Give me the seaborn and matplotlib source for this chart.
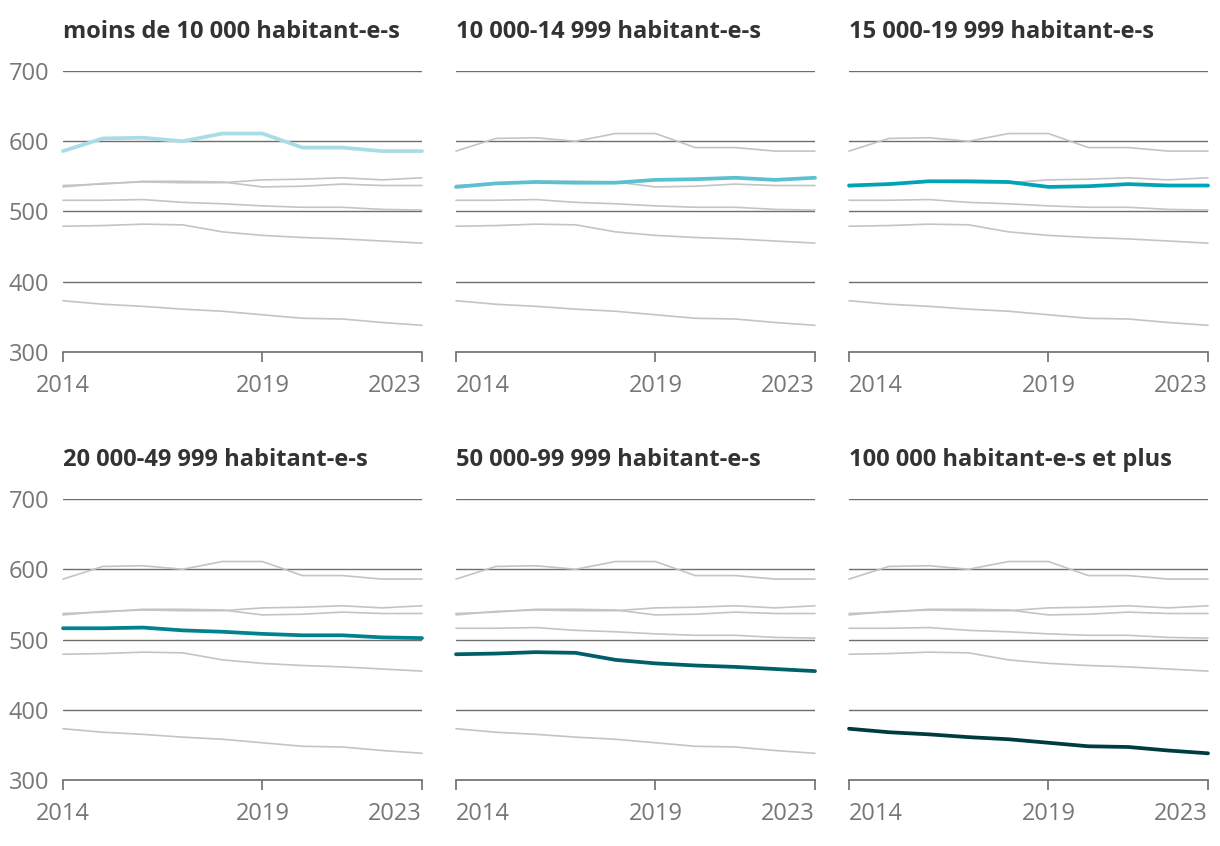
import numpy as np
import pandas as pd
import matplotlib
matplotlib.use("Agg")
import matplotlib.pyplot as plt
import seaborn as sns

# data
years = list(range(2014, 2024))
groups = [
    "moins de 10 000 habitant-e-s",
    "10 000-14 999 habitant-e-s",
    "15 000-19 999 habitant-e-s",
    "20 000-49 999 habitant-e-s",
    "50 000-99 999 habitant-e-s",
    "100 000 habitant-e-s et plus",
]
lt_10k = [586, 604, 605, 600, 611, 611, 591, 591, 586, 586]
k10_15 = [535, 540, 542, 541, 541, 545, 546, 548, 545, 548]
k15_20 = [537, 539, 543, 543, 542, 535, 536, 539, 537, 537]
k20_50 = [516, 516, 517, 513, 511, 508, 506, 506, 503, 502]
k50_100 = [479, 480, 482, 481, 471, 466, 463, 461, 458, 455]
gt_100k = [373, 368, 365, 361, 358, 353, 348, 347, 342, 338]
series = [lt_10k, k10_15, k15_20, k20_50, k50_100, gt_100k]
colors = ["#a8dde7", "#5bc0cf", "#00a3b5", "#00838f", "#005f69", "#003b40"]
xticks = [2014, 2019, 2023]

df = pd.DataFrame({
    "year": years * len(groups),
    "value": sum(series, []),
    "group": np.repeat(groups, len(years)),
})

sns.set_style("white")
plt.rcParams['font.family'] = ['Open Sans', 'DejaVu Sans']

fig = plt.figure(figsize=(12.2, 8.46), dpi=100)
lefts = [63 / 1220, 456 / 1220, 849 / 1220]
bottoms = [1 - 352 / 846, 1 - 780 / 846]
w = 359 / 1220
h = 281 / 846

for i, g in enumerate(groups):
    r, c = divmod(i, 3)
    ax = fig.add_axes([lefts[c], bottoms[r], w, h])
    others = df[df["group"] != g]
    sns.lineplot(data=others, x="year", y="value", units="group", estimator=None,
                 color="#c4c4c4", linewidth=1.2, ax=ax, legend=False)
    sns.lineplot(data=df[df["group"] == g], x="year", y="value",
                 color=colors[i], linewidth=2.7, ax=ax, legend=False)
    for ln in ax.lines:
        ln.set_clip_on(False)
    ax.set_xlim(2014, 2023)
    ax.set_ylim(300, 700)
    ax.set_yticks([300, 400, 500, 600, 700])
    ax.set_xticks(xticks)
    ax.grid(axis="y", color="#6e6e6e", linewidth=1.0)
    ax.grid(axis="x", visible=False)
    ax.set_axisbelow(True)
    for s in ["left", "top", "right"]:
        ax.spines[s].set_visible(False)
    ax.spines["bottom"].set_color("#6e6e6e")
    ax.spines["bottom"].set_linewidth(1.2)
    ax.tick_params(axis="x", length=7, width=1.2, color="#6e6e6e", direction="out",
                   bottom=True, labelsize=17, labelcolor="#777777", pad=9)
    ax.tick_params(axis="y", length=0, labelsize=17, labelcolor="#777777", pad=10)
    labs = ax.get_xticklabels()
    labs[0].set_ha("center" if c == 0 else "left")
    labs[-1].set_ha("right")
    if c != 0:
        ax.set_yticklabels([])
    ax.set_xlabel("")
    ax.set_ylabel("")
    ax.set_title(g, loc="left", fontsize=17, fontweight="bold", color="#333333", pad=24)

fig.savefig("out.png", dpi=100)
